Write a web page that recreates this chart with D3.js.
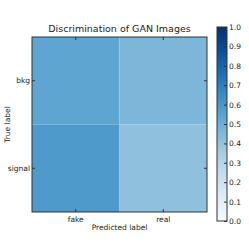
<!DOCTYPE html>
<html>
<head>
<meta charset="utf-8">
<title>Discrimination of GAN Images</title>
<script src="https://d3js.org/d3.v7.min.js"></script>
<style>
  body { margin: 0; background: #fff; }
  text { font-family: "DejaVu Sans", sans-serif; fill: #222; }
</style>
</head>
<body>
<script>
var predicted = ["fake", "real"];
var trueLabels = ["bkg", "signal"];
var values = [[0.54, 0.46], [0.59, 0.41]];
var cbTicks = [0.0, 0.1, 0.2, 0.3, 0.4, 0.5, 0.6, 0.7, 0.8, 0.9, 1.0];

var W = 249, H = 249;
var svg = d3.select("body").append("svg").attr("width", W).attr("height", H);

var plotLeft = 32, plotTop = 37, size = 175;
var x = d3.scaleBand().domain(predicted).range([plotLeft, plotLeft + size]);
var y = d3.scaleBand().domain(trueLabels).range([plotTop, plotTop + size]);
var color = d3.scaleSequential(d3.interpolateBlues).domain([0, 1]);

var cells = [];
trueLabels.forEach(function(t, i) {
  predicted.forEach(function(p, j) { cells.push({t: t, p: p, v: values[i][j]}); });
});

svg.selectAll("rect.cell").data(cells).enter().append("rect")
  .attr("class", "cell")
  .attr("x", function(d) { return x(d.p); })
  .attr("y", function(d) { return y(d.t); })
  .attr("width", x.bandwidth())
  .attr("height", y.bandwidth())
  .attr("fill", function(d) { return color(d.v); });

svg.append("rect").attr("x", plotLeft).attr("y", plotTop).attr("width", size).attr("height", size)
  .attr("fill", "none").attr("stroke", "#333").attr("stroke-width", 1);

// inward ticks on all sides
var tickLen = 3;
predicted.forEach(function(p) {
  var cx = x(p) + x.bandwidth() / 2;
  svg.append("line").attr("x1", cx).attr("x2", cx).attr("y1", plotTop + size).attr("y2", plotTop + size - tickLen).attr("stroke", "#333");
  svg.append("line").attr("x1", cx).attr("x2", cx).attr("y1", plotTop).attr("y2", plotTop + tickLen).attr("stroke", "#333");
  svg.append("text").attr("x", cx).attr("y", plotTop + size + 10).attr("text-anchor", "middle")
    .style("font-size", "7.5px").text(p);
});
trueLabels.forEach(function(t) {
  var cyy = y(t) + y.bandwidth() / 2;
  svg.append("line").attr("x1", plotLeft).attr("x2", plotLeft + tickLen).attr("y1", cyy).attr("y2", cyy).attr("stroke", "#333");
  svg.append("line").attr("x1", plotLeft + size).attr("x2", plotLeft + size - tickLen).attr("y1", cyy).attr("y2", cyy).attr("stroke", "#333");
  svg.append("text").attr("x", plotLeft - 2).attr("y", cyy + 2.5).attr("text-anchor", "end")
    .style("font-size", "7.5px").text(t);
});

svg.append("text").attr("x", plotLeft + size / 2).attr("y", plotTop - 5).attr("text-anchor", "middle")
  .style("font-size", "9.5px").text("Discrimination of GAN Images");
svg.append("text").attr("x", plotLeft + size / 2).attr("y", 230).attr("text-anchor", "middle")
  .style("font-size", "7.5px").text("Predicted label");
svg.append("text").attr("transform", "translate(10," + (plotTop + size / 2) + ") rotate(-90)")
  .attr("text-anchor", "middle").style("font-size", "7.5px").text("True label");

// colorbar
var cbX = 217, cbW = 10, cbTop = 27, cbBot = 221;
var cbScale = d3.scaleLinear().domain([0, 1]).range([cbBot, cbTop]);
var defs = svg.append("defs");
var grad = defs.append("linearGradient").attr("id", "cbg").attr("x1", 0).attr("y1", 1).attr("x2", 0).attr("y2", 0);
d3.range(0, 1.0001, 0.05).forEach(function(s) {
  grad.append("stop").attr("offset", s).attr("stop-color", color(s));
});
svg.append("rect").attr("x", cbX).attr("y", cbTop).attr("width", cbW).attr("height", cbBot - cbTop)
  .attr("fill", "url(#cbg)").attr("stroke", "#333").attr("stroke-width", 1);
var cbAxis = d3.axisRight(cbScale).tickValues(cbTicks).tickFormat(d3.format(".1f")).tickSize(-3);
var g = svg.append("g").attr("transform", "translate(" + (cbX + cbW) + ",0)").call(cbAxis);
g.select(".domain").remove();
g.selectAll("line").attr("stroke", "#333");
g.selectAll("text").attr("x", 2).style("font-size", "7.5px").style("font-family", "DejaVu Sans, sans-serif").attr("fill", "#222");
</script>
</body>
</html>
